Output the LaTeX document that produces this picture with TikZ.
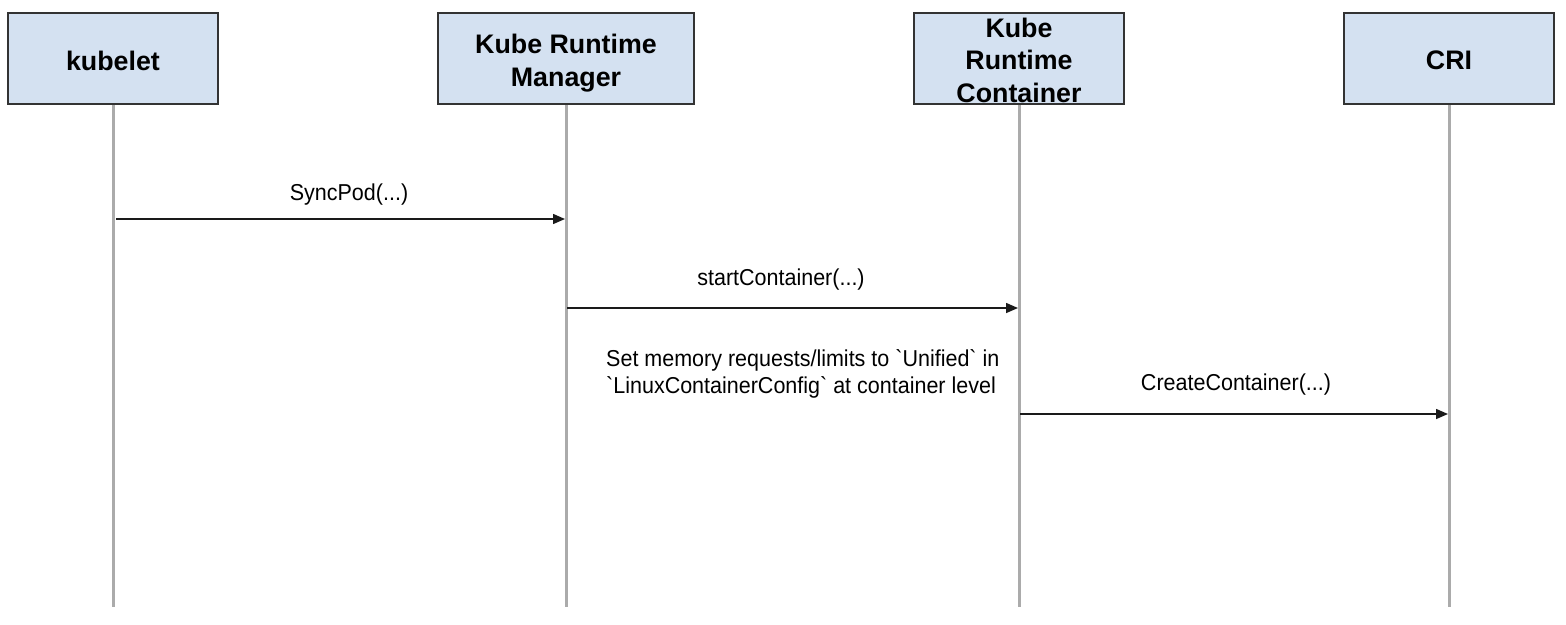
\documentclass[tikz,border=0pt]{standalone}
\usepackage{fontspec}
\setmainfont{Liberation Sans}
\newfontfamily\lblfont[FakeStretch=0.935]{Liberation Sans}
\usetikzlibrary{arrows.meta}
\definecolor{boxfill}{HTML}{D4E1F1}
\definecolor{boxline}{HTML}{333333}
\definecolor{lifegray}{HTML}{ABABAB}
\definecolor{msgcol}{HTML}{1A1A1A}
\newcommand{\bt}{\symbol{96}}
\begin{document}
\begin{tikzpicture}[x=1pt,y=-1pt,
  actor/.style={draw=boxline, fill=boxfill, line width=1.3pt, minimum width=210pt, minimum height=91pt, inner sep=0pt},
  actortext/.style={inner sep=0pt, align=center, font=\bfseries\fontsize{26.8}{32.5}\selectfont},
  life/.style={draw=lifegray, line width=3pt},
  msg/.style={draw=msgcol, line width=1.5pt, -{Triangle[length=12pt,width=10pt]}},
  msglabel/.style={font=\lblfont\fontsize{23}{27}\selectfont, inner sep=0pt, anchor=base}
]
\useasboundingbox (0,0) rectangle (1566,624);
% lifelines (drawn first)
\coordinate (kubEnd) at (113,607);
\coordinate (mgrEnd) at (566,607);
\coordinate (ctrEnd) at (1019,607);
\coordinate (criEnd) at (1449,607);
\draw[life] (113,104) -- (kubEnd);
\draw[life] (566,104) -- (mgrEnd);
\draw[life] (1019,104) -- (ctrEnd);
\draw[life] (1449,104) -- (criEnd);
% actors
\node[actor] (kub) at (113,58.5) {};
\node[actor, minimum width=256pt] (mgr) at (566,58.5) {};
\node[actor] (ctr) at (1019,58.5) {};
\node[actor] (cri) at (1449,58.5) {};
\node[actortext] (kubT) at ([yshift=-2pt]kub.center) {kubelet};
\node[actortext] (mgrT) at ([yshift=-4.5pt]mgr.center) {Kube Runtime\\Manager};
\node[actortext] (ctrT) at ([yshift=-1.5pt]ctr.center) {Kube\\Runtime\\Container};
\node[actortext] (criT) at ([yshift=-2pt]cri.center) {CRI};
% message anchors
\coordinate (m1s) at (116,219);
\coordinate (m1e) at (565,219);
\coordinate (m2s) at (567,308);
\coordinate (m2e) at (1018,308);
\coordinate (m3s) at (1020,414);
\coordinate (m3e) at (1448,414);
\draw[msg] (m1s) -- (m1e);
\draw[msg] (m2s) -- (m2e);
\draw[msg] (m3s) -- (m3e);
% labels
\node[msglabel] (l1) at (349,200.5) {SyncPod(...)};
\node[msglabel] (l2) at (781,285) {startContainer(...)};
\node[msglabel] (l3) at (1236,390.5) {CreateContainer(...)};
\node[msglabel, anchor=base west] (n1) at (606,366) {Set memory requests/limits to \bt Unified\bt{} in};
\node[msglabel, anchor=base west] (n2) at (606,393.5) {\bt LinuxContainerConfig\bt{} at container level};
\end{tikzpicture}
\end{document}
